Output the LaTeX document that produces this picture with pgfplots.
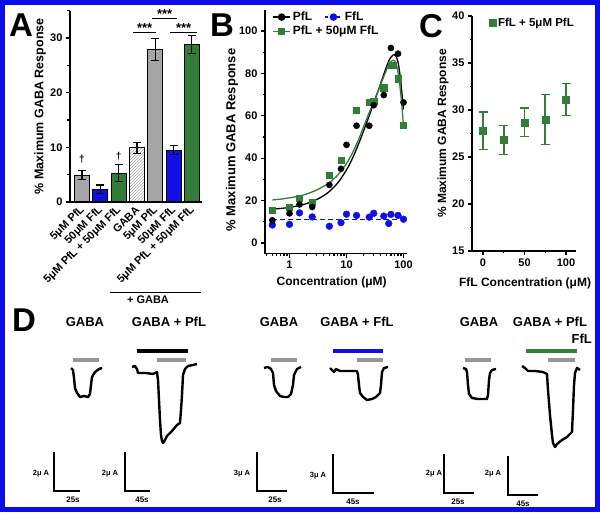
\documentclass[border=0pt]{standalone}
\usepackage{pgfplots}
\pgfplotsset{compat=1.18}
\usepackage{fontspec}
\setmainfont{Liberation Sans}
\usetikzlibrary{patterns}
\definecolor{bborder}{RGB}{12,12,235}
\definecolor{bblue}{RGB}{15,15,230}
\definecolor{bgreen}{RGB}{50,125,55}
\definecolor{bgray}{RGB}{165,165,165}
\definecolor{sgray}{RGB}{150,150,150}
\pgfplotsset{panel/.style={scale only axis, axis lines=left, axis line style={line width=1.5pt,-},
  tick style={line width=1.3pt, black}, tick align=outside, major tick length=4pt, minor tick length=2.5pt,
  /pgf/number format/assume math mode=true,
  tick label style={font=\fontsize{11}{12}\selectfont},
  label style={font=\fontsize{12}{13}\selectfont}, clip=false}}
\begin{document}
\bfseries
\begin{tikzpicture}
% ---------- canvas (panel D and decorations) ----------
\begin{axis}[at={(0,0)}, anchor=south west, scale only axis, width=600pt, height=512pt,
  xmin=0, xmax=600, ymin=0, ymax=512, hide axis, clip=false]
% traces
\addplot[black, line width=2.4pt, line join=round] coordinates {(71,144) (73,142) (74,134) (75,124) (77,119) (80,115) (84,116) (88,115) (90,118) (91,127) (92,135) (95,140) (99,143) (102,144)};
\addplot[black, line width=2.4pt, line join=round] coordinates {(132,145) (135,146) (137,143) (138,139) (146,139) (153,138) (157,140) (158,132) (159,112) (160,92) (161,77) (162,71) (163,69) (165,72) (167,76) (172,81) (177,87) (180,89) (181,102) (182,117) (183,137) (185,143) (188,146) (193,147) (197,148)};
\addplot[black, line width=2.4pt, line join=round] coordinates {(264,144) (268,145) (271,143) (273,139) (274,127) (276,121) (280,116) (284,115) (288,115) (291,118) (293,127) (294,137) (297,143) (301,145)};
\addplot[black, line width=2.4pt, line join=round] coordinates {(330,144) (332,142) (334,140) (336,143) (340,141) (346,141) (353,141) (357,141) (358,137) (359,127) (360,119) (363,115) (367,112) (372,113) (376,115) (380,119) (381,127) (382,140) (384,144) (388,145)};
\addplot[black, line width=2.4pt, line join=round] coordinates {(463,144) (466,143) (467,140) (468,127) (469,118) (472,114) (478,113) (487,113) (488,117) (489,132) (490,139) (492,142) (496,143)};
\addplot[black, line width=2.4pt, line join=round] coordinates {(522,146) (525,144) (528,141) (535,141) (543,140) (547,138) (548,122) (550,97) (552,77) (553,69) (555,65) (557,68) (562,72) (567,75) (572,80) (573,102) (574,127) (575,139) (577,144) (580,142)};
% stimulus bars
\addplot[sgray, line width=4pt] coordinates {(73,152) (99,152)};
\addplot[black, line width=4pt] coordinates {(137,161) (188,161)};
\addplot[sgray, line width=4pt] coordinates {(157,152) (186,152)};
\addplot[sgray, line width=4pt] coordinates {(271,152) (297,152)};
\addplot[bblue, line width=4pt] coordinates {(333,161) (383,161)};
\addplot[sgray, line width=4pt] coordinates {(357,152) (383,152)};
\addplot[sgray, line width=4pt] coordinates {(465,152) (491,152)};
\addplot[bgreen, line width=4pt] coordinates {(526,161) (577,161)};
\addplot[sgray, line width=4pt] coordinates {(548,152) (575,152)};
% scale bars
\addplot[black, line width=2.2pt] coordinates {(54,60) (54,21) (80,21)};
\addplot[black, line width=2.2pt] coordinates {(125,60) (125,21) (150,21)};
\addplot[black, line width=2.2pt] coordinates {(257,60) (257,21) (287,21)};
\addplot[black, line width=2.2pt] coordinates {(333,58) (333,19) (374,19)};
\addplot[black, line width=2.2pt] coordinates {(444,58) (444,19) (474,19)};
\addplot[black, line width=2.2pt] coordinates {(508,56) (508,17) (538,17)};
\begin{scope}[every node/.style={font=\fontsize{7.5}{8}\selectfont, inner sep=0pt}]
\node at (axis cs:41,38) {2μ A};
\node at (axis cs:110,38) {2μ A};
\node at (axis cs:242,38) {3μ A};
\node at (axis cs:318,36) {3μ A};
\node at (axis cs:434,38) {2μ A};
\node at (axis cs:493,38) {2μ A};
\end{scope}
\begin{scope}[every node/.style={font=\fontsize{8}{9}\selectfont, inner sep=0pt}]
\node at (axis cs:73,12) {25s};
\node at (axis cs:142,12) {45s};
\node at (axis cs:275,12) {25s};
\node at (axis cs:353,10) {45s};
\node at (axis cs:458,10) {25s};
\node at (axis cs:523,8) {45s};
\end{scope}
\begin{scope}[every node/.style={font=\fontsize{13}{14}\selectfont, inner sep=0pt}]
\node at (axis cs:85,190) {GABA};
\node at (axis cs:169,190) {GABA + PfL};
\node at (axis cs:279,190) {GABA};
\node at (axis cs:357,190) {GABA + FfL};
\node at (axis cs:479,190) {GABA};
\node at (axis cs:550,190) {GABA + PfL};
\node[anchor=east] at (axis cs:592,173) {FfL};
\end{scope}
% + GABA bracket
\draw[line width=1pt] (axis cs:110,219) -- (axis cs:201,219);
\node[font=\fontsize{11}{12}\selectfont, inner sep=0pt] at (axis cs:148,212) {+ GABA};
% panel letters
\begin{scope}[every node/.style={font=\fontsize{33}{34}\selectfont, inner sep=0pt}]
\node at (axis cs:21,487) {A};
\node at (axis cs:222,487) {B};
\node at (axis cs:431,486) {C};
\node at (axis cs:24,192) {D};
\end{scope}
\end{axis}

% ---------- Panel A ----------
\begin{axis}[panel, at={(70pt,310pt)}, anchor=south west, width=132pt, height=191.5pt,
  xmin=0.344, xmax=7.55, ymin=0, ymax=35,
  ytick={0,10,20,30}, minor ytick={5,15,25,35},
  xtick={1,2,3,4,5,6,7},
  xticklabels={{5μM PfL},{50μM FfL},{5μM PfL + 50μM FfL},{GABA},{5μM PfL},{50μM FfL},{5μM PfL + 50μM FfL}},
  x tick style={draw=none},
  xticklabel style={rotate=45, anchor=east, font=\fontsize{11}{12}\selectfont, inner sep=1pt, yshift=-2pt},
  ylabel={\% Maximum GABA Response},
  ylabel style={at={(axis description cs:-0.227,0.5)}, anchor=center, font=\fontsize{12.5}{13}\selectfont}]
\addplot[ybar, bar width=15pt, bar shift=0pt, fill=bgray, draw=black, line width=1pt,
  error bars/.cd, y dir=both, y explicit, error bar style={black, line width=1.1pt},
  error mark options={rotate=90, mark size=4pt, black, line width=1.1pt}]
  coordinates {(1,4.9) +- (0,0.8) (5,27.9) +- (0,2.0)};
\addplot[ybar, bar width=15pt, bar shift=0pt, fill=bblue, draw=black, line width=1pt,
  error bars/.cd, y dir=both, y explicit, error bar style={black, line width=1.1pt},
  error mark options={rotate=90, mark size=4pt, black, line width=1.1pt}]
  coordinates {(2,2.3) +- (0,0.8) (6,9.5) +- (0,0.9)};
\addplot[ybar, bar width=15pt, bar shift=0pt, fill=bgreen, draw=black, line width=1pt,
  error bars/.cd, y dir=both, y explicit, error bar style={black, line width=1.1pt},
  error mark options={rotate=90, mark size=4pt, black, line width=1.1pt}]
  coordinates {(3,5.3) +- (0,1.5) (7,28.8) +- (0,1.6)};
\addplot[ybar, bar width=15pt, bar shift=0pt, fill=white, draw=black, line width=1pt,
  postaction={pattern=north east lines, pattern color=bgray},
  error bars/.cd, y dir=both, y explicit, error bar style={black, line width=1.1pt},
  error mark options={rotate=90, mark size=4pt, black, line width=1.1pt}]
  coordinates {(4,9.9) +- (0,1.0)};
\node[font=\fontsize{10}{11}\selectfont, inner sep=0pt] at (axis cs:1,7.8) {†};
\node[font=\fontsize{10}{11}\selectfont, inner sep=0pt] at (axis cs:3,8.4) {†};
\draw[line width=1pt] (axis cs:3.79,30.9) -- (axis cs:5.05,30.9);
\draw[line width=1pt] (axis cs:4.83,33.6) -- (axis cs:6.19,33.6);
\draw[line width=1pt] (axis cs:5.81,30.9) -- (axis cs:7.28,30.9);
\node[anchor=base, font=\fontsize{13}{14}\selectfont, inner sep=0pt] at (axis cs:4.42,30.9) {***};
\node[anchor=base, font=\fontsize{13}{14}\selectfont, inner sep=0pt] at (axis cs:5.51,33.6) {***};
\node[anchor=base, font=\fontsize{13}{14}\selectfont, inner sep=0pt] at (axis cs:6.55,30.9) {***};
\end{axis}

% ---------- Panel B ----------
\begin{axis}[panel, at={(265pt,258.4pt)}, anchor=south west, width=142pt, height=243.8pt,
  xmode=log, xmin=0.372, xmax=115, ymin=-5, ymax=110,
  xtick={1,10,100}, xticklabels={1,10,100},
  minor xtick={0.4,0.5,0.6,0.7,0.8,0.9,2,3,4,5,6,7,8,9,20,30,40,50,60,70,80,90},
  ytick={0,20,40,60,80,100}, minor ytick={10,30,50,70,90},
  ylabel={\% Maximum GABA Response},
  ylabel style={at={(axis description cs:-0.232,0.466)}, anchor=center, font=\fontsize{13}{14}\selectfont},
  xlabel={Concentration (μM)},
  xlabel style={at={(axis description cs:0.47,-0.12)}, anchor=center},
  legend style={at={(axis description cs:0.05,1.0)}, anchor=north west, draw=none, fill=none,
    inner sep=0pt, font=\fontsize{12}{14}\selectfont, legend cell align=left,
    /tikz/every even column/.append style={column sep=10pt}},
  legend columns=2]
\addlegendimage{black, line width=1.5pt, mark=*, mark size=3pt}
\addlegendimage{bblue, dashed, line width=1.5pt, mark=*, mark size=3pt, mark options={solid}}
\addlegendimage{bgreen, line width=1.5pt, mark=square*, mark size=3pt}
\legend{PfL, FfL, \makebox[0pt][l]{PfL + 50μM FfL}}
\addplot[color=bblue, line width=1.4pt, dash pattern=on 5pt off 3pt, forget plot] coordinates {(0.5,11) (100,11)};
\addplot[black, line width=1.3pt, smooth, forget plot] coordinates {(0.5,16.0) (0.7,16.3) (1,16.8) (1.5,17.7) (2,18.6) (3,20.5) (4,22.4) (5,24.3) (7,28.3) (10,34.5) (13,40.5) (17,48) (20,53) (25,60) (30,66) (35,71) (40,75.5) (45,79.5) (50,83) (55,85.8) (60,87.6) (65,88.6) (70,88.8) (75,87.8) (80,85.3) (85,81) (90,75.5) (95,69) (100,63)};
\addplot[bgreen, line width=1.3pt, smooth, forget plot] coordinates {(0.5,20.3) (0.7,20.7) (1,21.3) (1.5,22.2) (2,23.1) (3,25) (4,26.8) (5,28.5) (7,32) (10,37.5) (13,43) (17,50) (20,55) (25,61.5) (30,66.5) (35,71) (40,75) (45,78.5) (50,81.5) (55,84) (60,85.5) (65,86.2) (70,85.8) (75,84) (80,80.5) (85,75.5) (90,69.5) (95,62.5) (100,55)};
\addplot[only marks, mark=*, mark size=3.4pt, bblue, forget plot] coordinates {(0.5,8.5) (1,8.8) (1.5,14.2) (2.5,12.3) (5,7.9) (8,9.6) (10,13.6) (15,13.0) (25,12.2) (30,14.0) (45,12.7) (55,9.2) (60,13.5) (80,13.0) (100,11.2)};
\addplot[only marks, mark=square*, mark size=3.1pt, bgreen, forget plot] coordinates {(0.5,15.4) (1,17.0) (1.5,21.2) (2.5,19.3) (5,31.9) (8,39.0) (15,62.6) (25,66.5) (30,66.8) (45,73.3) (60,83.8) (65,84.0) (80,77.5) (100,55.5)};
\addplot[only marks, mark=*, mark size=3.1pt, black, forget plot] coordinates {(0.5,10.7) (1,14.0) (1.5,18.2) (2.5,17.0) (5,27.4) (8,35.0) (10,46.3) (15,55.3) (25,55.3) (30,65.0) (45,69.8) (60,92.0) (80,89.3) (100,66.3)};
\end{axis}

% ---------- Panel C ----------
\begin{axis}[panel, at={(472pt,261pt)}, anchor=south west, width=104pt, height=235pt,
  xmin=-13.3, xmax=112, ymin=15, ymax=40,
  xtick={0,50,100}, minor xtick={25,75},
  ytick={15,20,25,30,35,40}, minor ytick={17.5,22.5,27.5,32.5,37.5},
  ylabel={\% Maximum GABA Response},
  ylabel style={at={(axis description cs:-0.279,0.5)}, anchor=center},
  xlabel={FfL Concentration (μM)},
  xlabel style={at={(axis description cs:0.51,-0.136)}, anchor=center},
  legend style={at={(axis description cs:1.0,1.0)}, anchor=north east, draw=none, fill=none,
    inner sep=0pt, font=\fontsize{11.5}{13}\selectfont}]
\addplot[only marks, mark=square*, mark size=3.5pt, bgreen,
  error bars/.cd, y dir=both, y explicit, error bar style={bgreen, line width=1.6pt},
  error mark options={rotate=90, mark size=4.5pt, line width=1.6pt, bgreen}]
  coordinates {(0,27.8) +- (0,2.0) (25,26.8) +- (0,1.55) (50,28.7) +- (0,1.5) (75,29.0) +- (0,2.65) (100,31.1) +- (0,1.7)};
\addlegendentry{FfL + 5μM PfL}
\end{axis}

\draw[bborder, line width=5pt] (2.5pt,2.5pt) rectangle (597.5pt,509.5pt);
\end{tikzpicture}
\end{document}
